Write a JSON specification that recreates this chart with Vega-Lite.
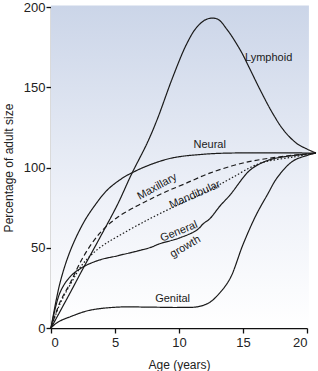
{
  "$schema": "https://vega.github.io/schema/vega-lite/v6.json",
  "width": 256,
  "height": 321,
  "autosize": {"type": "none"},
  "padding": {"left": 51, "top": 7, "right": 11, "bottom": 43},
  "background": "white",
  "config": {
    "view": {"stroke": null},
    "font": "Liberation Sans",
    "axis": {"grid": false, "domainColor": "#111", "tickColor": "#111", "labelColor": "#222", "titleColor": "#222", "labelFont": "Liberation Sans", "titleFont": "Liberation Sans", "titleFontWeight": "normal", "labelFontSize": 13, "titleFontSize": 12, "tickSize": 5, "domainWidth": 1.3, "tickWidth": 1.3}
  },
  "datasets": {
    "panel": [{"x0": 0, "x1": 20.15, "y0": 0, "y1": 201}],
    "curves": [
      {"series": "Lymphoid", "age": 0, "pct": 0},
      {"series": "Lymphoid", "age": 1.5, "pct": 22},
      {"series": "Lymphoid", "age": 2.5, "pct": 37},
      {"series": "Lymphoid", "age": 3.8, "pct": 56},
      {"series": "Lymphoid", "age": 5.2, "pct": 77},
      {"series": "Lymphoid", "age": 6.3, "pct": 96},
      {"series": "Lymphoid", "age": 7.5, "pct": 115},
      {"series": "Lymphoid", "age": 8.3, "pct": 130},
      {"series": "Lymphoid", "age": 9.5, "pct": 156},
      {"series": "Lymphoid", "age": 10.6, "pct": 177},
      {"series": "Lymphoid", "age": 11.4, "pct": 187.5},
      {"series": "Lymphoid", "age": 12.2, "pct": 192.5},
      {"series": "Lymphoid", "age": 13, "pct": 192.5},
      {"series": "Lymphoid", "age": 13.75, "pct": 186},
      {"series": "Lymphoid", "age": 14.8, "pct": 173},
      {"series": "Lymphoid", "age": 15.5, "pct": 162},
      {"series": "Lymphoid", "age": 16.3, "pct": 149},
      {"series": "Lymphoid", "age": 17.3, "pct": 134},
      {"series": "Lymphoid", "age": 18.2, "pct": 123},
      {"series": "Lymphoid", "age": 19.2, "pct": 115},
      {"series": "Lymphoid", "age": 20, "pct": 111.5},
      {"series": "Lymphoid", "age": 20.7, "pct": 109},
      {"series": "Neural", "age": 0, "pct": 0},
      {"series": "Neural", "age": 0.7, "pct": 28},
      {"series": "Neural", "age": 1.5, "pct": 48},
      {"series": "Neural", "age": 2.5, "pct": 65},
      {"series": "Neural", "age": 3.3, "pct": 75},
      {"series": "Neural", "age": 4.4, "pct": 86},
      {"series": "Neural", "age": 5.6, "pct": 93.5},
      {"series": "Neural", "age": 6.3, "pct": 96.6},
      {"series": "Neural", "age": 7.7, "pct": 101.6},
      {"series": "Neural", "age": 9.5, "pct": 106},
      {"series": "Neural", "age": 12, "pct": 108.3},
      {"series": "Neural", "age": 14, "pct": 109},
      {"series": "Neural", "age": 20.7, "pct": 109},
      {"series": "Maxillary", "age": 0, "pct": 0},
      {"series": "Maxillary", "age": 0.7, "pct": 16},
      {"series": "Maxillary", "age": 1.5, "pct": 28},
      {"series": "Maxillary", "age": 2.5, "pct": 44},
      {"series": "Maxillary", "age": 3.8, "pct": 59},
      {"series": "Maxillary", "age": 5.2, "pct": 69},
      {"series": "Maxillary", "age": 6.7, "pct": 76},
      {"series": "Maxillary", "age": 7.7, "pct": 80},
      {"series": "Maxillary", "age": 9, "pct": 85},
      {"series": "Maxillary", "age": 10.5, "pct": 90},
      {"series": "Maxillary", "age": 12.4, "pct": 96.5},
      {"series": "Maxillary", "age": 15, "pct": 102.8},
      {"series": "Maxillary", "age": 17.7, "pct": 106.5},
      {"series": "Maxillary", "age": 20.7, "pct": 109},
      {"series": "Mandibular", "age": 0, "pct": 0},
      {"series": "Mandibular", "age": 0.7, "pct": 15},
      {"series": "Mandibular", "age": 1.5, "pct": 27},
      {"series": "Mandibular", "age": 2.5, "pct": 40},
      {"series": "Mandibular", "age": 3.8, "pct": 50},
      {"series": "Mandibular", "age": 5.2, "pct": 57},
      {"series": "Mandibular", "age": 7.7, "pct": 68},
      {"series": "Mandibular", "age": 10, "pct": 77},
      {"series": "Mandibular", "age": 12.4, "pct": 86},
      {"series": "Mandibular", "age": 14, "pct": 93},
      {"series": "Mandibular", "age": 16.3, "pct": 102.5},
      {"series": "Mandibular", "age": 18.9, "pct": 106.5},
      {"series": "Mandibular", "age": 20.7, "pct": 109},
      {"series": "General growth", "age": 0, "pct": 0},
      {"series": "General growth", "age": 0.7, "pct": 22},
      {"series": "General growth", "age": 1.5, "pct": 32},
      {"series": "General growth", "age": 2.5, "pct": 38},
      {"series": "General growth", "age": 3.8, "pct": 42.4},
      {"series": "General growth", "age": 5.2, "pct": 45},
      {"series": "General growth", "age": 7.7, "pct": 50},
      {"series": "General growth", "age": 8.5, "pct": 52.5},
      {"series": "General growth", "age": 10, "pct": 56},
      {"series": "General growth", "age": 11.4, "pct": 61},
      {"series": "General growth", "age": 11.9, "pct": 65},
      {"series": "General growth", "age": 12.4, "pct": 68},
      {"series": "General growth", "age": 13.2, "pct": 76},
      {"series": "General growth", "age": 14, "pct": 83},
      {"series": "General growth", "age": 15.5, "pct": 98},
      {"series": "General growth", "age": 16.6, "pct": 103.4},
      {"series": "General growth", "age": 17.7, "pct": 106},
      {"series": "General growth", "age": 20.7, "pct": 109},
      {"series": "Genital", "age": 0, "pct": 0},
      {"series": "Genital", "age": 0.5, "pct": 3.5},
      {"series": "Genital", "age": 1.5, "pct": 7},
      {"series": "Genital", "age": 3, "pct": 11},
      {"series": "Genital", "age": 5.2, "pct": 13},
      {"series": "Genital", "age": 7.7, "pct": 13},
      {"series": "Genital", "age": 10, "pct": 12.8},
      {"series": "Genital", "age": 11.5, "pct": 13.3},
      {"series": "Genital", "age": 12.4, "pct": 16},
      {"series": "Genital", "age": 13.2, "pct": 22},
      {"series": "Genital", "age": 14, "pct": 31},
      {"series": "Genital", "age": 15, "pct": 52},
      {"series": "Genital", "age": 16, "pct": 70},
      {"series": "Genital", "age": 16.9, "pct": 83},
      {"series": "Genital", "age": 17.7, "pct": 94},
      {"series": "Genital", "age": 18.9, "pct": 104},
      {"series": "Genital", "age": 20, "pct": 107.5},
      {"series": "Genital", "age": 20.7, "pct": 109}
    ],
    "flatLabels": [
      {"label": "Lymphoid", "age": 17.0, "pct": 168},
      {"label": "Neural", "age": 12.4, "pct": 114},
      {"label": "Genital", "age": 9.5, "pct": 18}
    ]
  },
  "layer": [
    {
      "data": {"name": "panel"},
      "mark": {"type": "rect", "fill": {"gradient": "linear", "x1": 0, "y1": 0, "x2": 0, "y2": 1, "stops": [{"offset": 0, "color": "#cbd5e8"}, {"offset": 0.6, "color": "#eef1f8"}, {"offset": 1, "color": "#ffffff"}]}, "stroke": null},
      "encoding": {
        "x": {"field": "x0", "type": "quantitative", "scale": {"domain": [0, 20], "nice": false}},
        "x2": {"field": "x1"},
        "y": {"field": "y0", "type": "quantitative", "scale": {"domain": [0, 200], "nice": false}},
        "y2": {"field": "y1"}
      }
    },
    {
      "data": {"name": "curves"},
      "mark": {"type": "line", "interpolate": "catmull-rom", "color": "#1a1a1a", "strokeWidth": 1.2, "clip": false},
      "encoding": {
        "x": {"field": "age", "type": "quantitative", "scale": {"domain": [0, 20], "nice": false},
          "axis": {"values": [0, 5, 10, 15, 20], "title": "Age (years)", "titleY": 36, "titleBaseline": "middle", "labelPadding": 3}},
        "y": {"field": "pct", "type": "quantitative", "scale": {"domain": [0, 200], "nice": false},
          "axis": {"values": [0, 50, 100, 150, 200], "title": "Percentage of adult size", "titleX": -43, "titleY": 160.5, "titleAngle": -90, "titleBaseline": "middle", "titleAlign": "center", "labelPadding": 1}},
        "detail": {"field": "series"},
        "strokeDash": {"field": "series", "type": "nominal", "legend": null,
          "scale": {"domain": ["Lymphoid", "Neural", "Maxillary", "Mandibular", "General growth", "Genital"],
                    "range": [[1, 0], [1, 0], [5, 3], [1.5, 2], [1, 0], [1, 0]]}}
      }
    },
    {
      "data": {"name": "flatLabels"},
      "mark": {"type": "text", "fontSize": 11, "color": "#1a1a1a", "font": "Liberation Sans"},
      "encoding": {
        "x": {"field": "age", "type": "quantitative"},
        "y": {"field": "pct", "type": "quantitative"},
        "text": {"field": "label"}
      }
    },
    {
      "data": {"values": [{"label": "Maxillary", "age": 8.3, "pct": 88}]},
      "mark": {"type": "text", "fontSize": 11, "angle": -29, "color": "#1a1a1a", "font": "Liberation Sans"},
      "encoding": {"x": {"field": "age", "type": "quantitative"}, "y": {"field": "pct", "type": "quantitative"}, "text": {"field": "label"}}
    },
    {
      "data": {"values": [{"label": "Mandibular", "age": 11.25, "pct": 83}]},
      "mark": {"type": "text", "fontSize": 11, "angle": -24, "color": "#1a1a1a", "font": "Liberation Sans"},
      "encoding": {"x": {"field": "age", "type": "quantitative"}, "y": {"field": "pct", "type": "quantitative"}, "text": {"field": "label"}}
    },
    {
      "data": {"values": [{"label": "General", "age": 10.0, "pct": 60}]},
      "mark": {"type": "text", "fontSize": 11, "angle": -22, "color": "#1a1a1a", "font": "Liberation Sans"},
      "encoding": {"x": {"field": "age", "type": "quantitative"}, "y": {"field": "pct", "type": "quantitative"}, "text": {"field": "label"}}
    },
    {
      "data": {"values": [{"label": "growth", "age": 10.5, "pct": 50.5}]},
      "mark": {"type": "text", "fontSize": 11, "angle": -30, "color": "#1a1a1a", "font": "Liberation Sans"},
      "encoding": {"x": {"field": "age", "type": "quantitative"}, "y": {"field": "pct", "type": "quantitative"}, "text": {"field": "label"}}
    }
  ]
}
